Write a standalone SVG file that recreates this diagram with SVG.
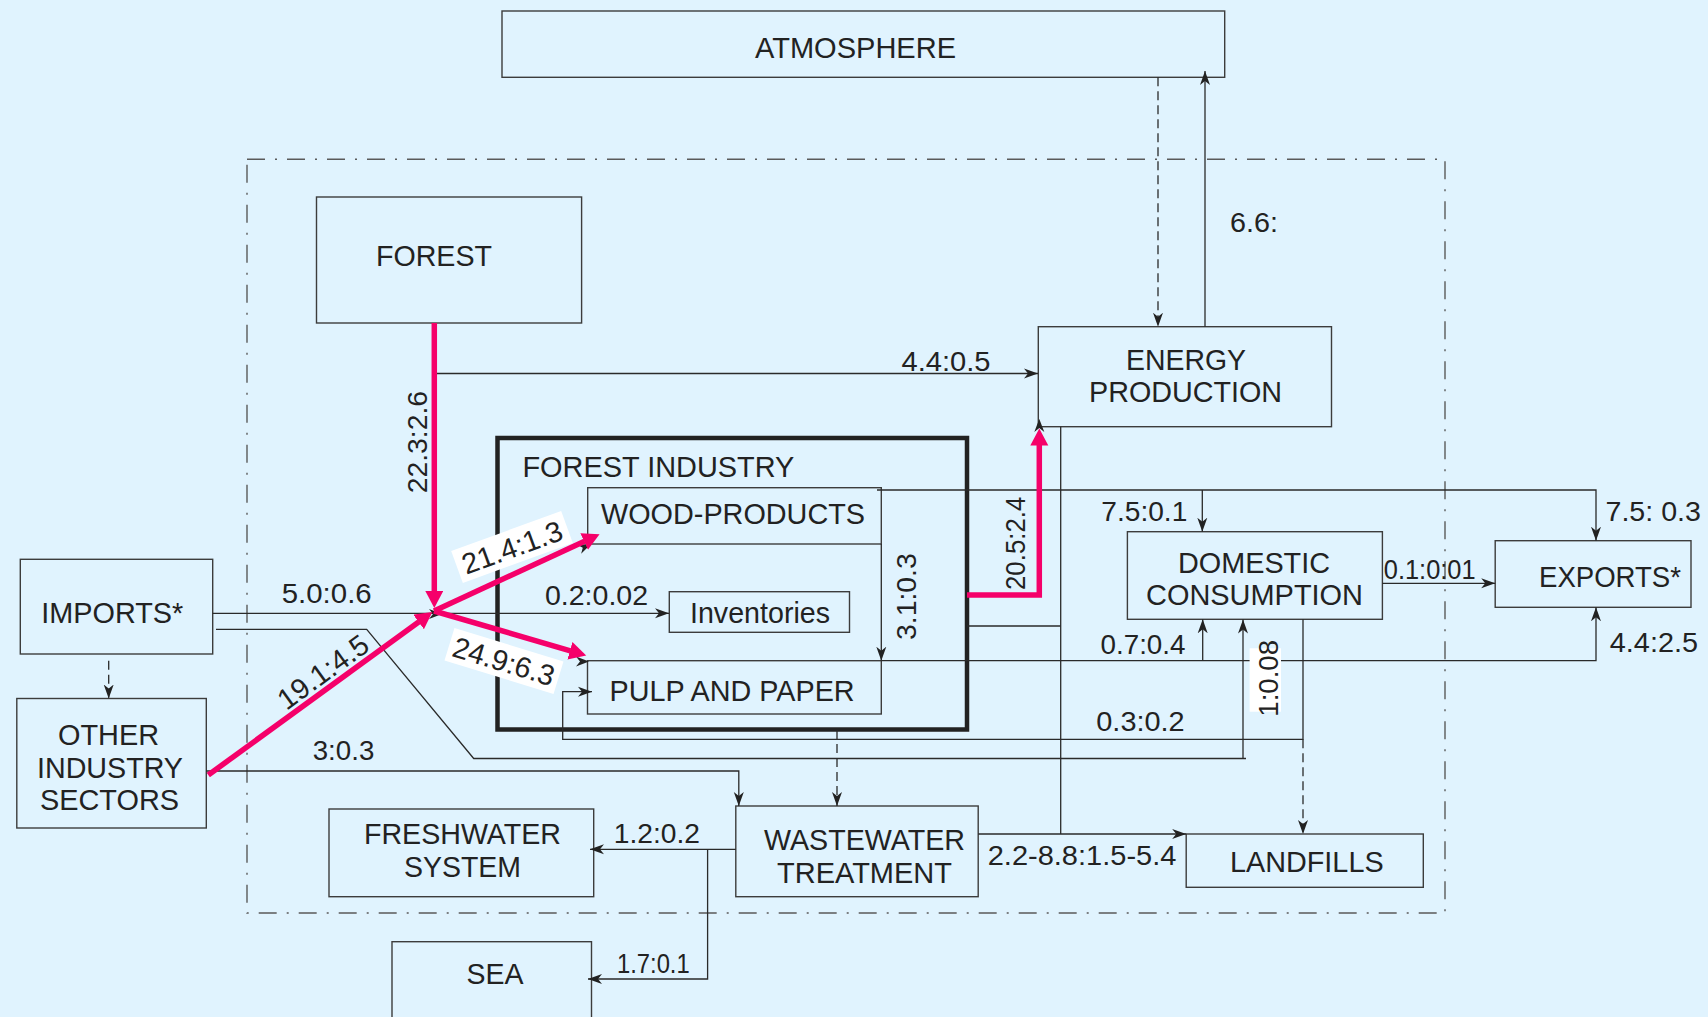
<svg xmlns="http://www.w3.org/2000/svg" xmlns:xlink="http://www.w3.org/1999/xlink" width="1708" height="1017" viewBox="0 0 1708 1017">
<style>
.bx{fill:none;stroke:#3c3c3c;stroke-width:1.4}
.thick{fill:none;stroke:#222;stroke-width:4.5}
.ln{fill:none;stroke:#2a2a2a;stroke-width:1.3}
.dl{fill:none;stroke:#2a2a2a;stroke-width:1.3;stroke-dasharray:9 5}
.bd{fill:none;stroke:#5a5a5a;stroke-width:1.4;stroke-dasharray:18 10 2 10}
.pk{fill:none;stroke:#F5006A;stroke-width:5.5;stroke-linejoin:miter}
.t{font-family:"Liberation Sans",Arial,Helvetica,sans-serif;font-size:29.5px;fill:#222}
.n{font-family:"Liberation Sans",Arial,Helvetica,sans-serif;font-size:27px;fill:#222}
.r{font-family:"Liberation Sans",Arial,Helvetica,sans-serif;font-size:29px;fill:#222}
.wb{fill:#ffffff}
</style>
<defs>
<marker id="ah" markerUnits="userSpaceOnUse" markerWidth="16" markerHeight="12" refX="14" refY="6" orient="auto"><path d="M0,1 L14,6 L0,11 L4,6 Z" fill="#222"/></marker>
<marker id="ph" markerUnits="userSpaceOnUse" markerWidth="19" markerHeight="19" refX="0.5" refY="9" orient="auto"><path d="M0,0 L17,9 L0,18 Z" fill="#F5006A"/></marker>
<path id="bh" d="M0,0 L-13,-5 L-9,0 L-13,5 Z" fill="#222"/>
</defs>
<rect width="1708" height="1017" fill="#E0F3FE"/>

<rect class="bd" x="247" y="159.3" width="1198" height="753.7"/>

<g id="atmosphere"><rect class="bx" x="502" y="11" width="722.7" height="66.3"/><text class="t" x="755" y="58.3" textLength="201" lengthAdjust="spacingAndGlyphs">ATMOSPHERE</text></g>
<g id="forest"><rect class="bx" x="316.5" y="197" width="265.1" height="126"/><text class="t" x="376" y="265.7" textLength="116" lengthAdjust="spacingAndGlyphs">FOREST</text></g>
<g id="energy"><rect class="bx" x="1038.3" y="326.7" width="293.2" height="100"/><text class="t" x="1126" y="369.5" textLength="120" lengthAdjust="spacingAndGlyphs">ENERGY</text><text class="t" x="1089" y="402" textLength="193" lengthAdjust="spacingAndGlyphs">PRODUCTION</text></g>
<g id="forest-industry"><rect class="thick" x="497.5" y="438" width="469.5" height="291.5"/><text class="t" x="522.4" y="476.5" textLength="272" lengthAdjust="spacingAndGlyphs">FOREST INDUSTRY</text></g>
<g id="wood-products"><rect class="bx" x="587.7" y="487.7" width="293.6" height="56.3"/><text class="t" x="601" y="524.3" textLength="264" lengthAdjust="spacingAndGlyphs">WOOD-PRODUCTS</text></g>
<g id="inventories"><rect class="bx" x="669.3" y="591.7" width="180.2" height="40.6"/><text class="t" x="690" y="623.3" textLength="140" lengthAdjust="spacingAndGlyphs">Inventories</text></g>
<g id="pulp-and-paper"><rect class="bx" x="587.5" y="660.7" width="293.8" height="53.3"/><text class="t" x="609.6" y="700.7" textLength="245" lengthAdjust="spacingAndGlyphs">PULP AND PAPER</text></g>
<g id="imports"><rect class="bx" x="20.3" y="559.3" width="192.4" height="94.7"/><text class="t" x="41.3" y="622.7" textLength="142" lengthAdjust="spacingAndGlyphs">IMPORTS*</text></g>
<g id="other-industry"><rect class="bx" x="16.8" y="698.5" width="189.5" height="129.5"/><text class="t" x="58" y="745" textLength="101" lengthAdjust="spacingAndGlyphs">OTHER</text><text class="t" x="37" y="777.7" textLength="146" lengthAdjust="spacingAndGlyphs">INDUSTRY</text><text class="t" x="40" y="810" textLength="139" lengthAdjust="spacingAndGlyphs">SECTORS</text></g>
<g id="domestic"><rect class="bx" x="1127.4" y="531.7" width="255" height="87.6"/><text class="t" x="1178" y="572.7" textLength="152" lengthAdjust="spacingAndGlyphs">DOMESTIC</text><text class="t" x="1146" y="605" textLength="217" lengthAdjust="spacingAndGlyphs">CONSUMPTION</text></g>
<g id="exports"><rect class="bx" x="1495.2" y="540.7" width="195.8" height="66.6"/><text class="t" x="1539" y="586.7" textLength="142" lengthAdjust="spacingAndGlyphs">EXPORTS*</text></g>
<g id="wastewater"><rect class="bx" x="735.8" y="806" width="242.4" height="90.7"/><text class="t" x="764" y="850" textLength="201" lengthAdjust="spacingAndGlyphs">WASTEWATER</text><text class="t" x="777" y="883.3" textLength="175" lengthAdjust="spacingAndGlyphs">TREATMENT</text></g>
<g id="freshwater"><rect class="bx" x="329" y="809" width="264.7" height="87.7"/><text class="t" x="364" y="844.3" textLength="197" lengthAdjust="spacingAndGlyphs">FRESHWATER</text><text class="t" x="404" y="877.3" textLength="117" lengthAdjust="spacingAndGlyphs">SYSTEM</text></g>
<g id="sea"><rect class="bx" x="392" y="941.7" width="199.5" height="80"/><text class="t" x="466.5" y="984.3" textLength="57" lengthAdjust="spacingAndGlyphs">SEA</text></g>
<g id="landfills"><rect class="bx" x="1186.2" y="834" width="237.1" height="53.3"/><text class="t" x="1230" y="871.7" textLength="153.6" lengthAdjust="spacingAndGlyphs">LANDFILLS</text></g>

<g id="connectors">
<path class="dl" d="M1158,77.3 V326.7" marker-end="url(#ah)"/>
<path class="ln" d="M1205,326.7 V71" marker-end="url(#ah)"/>
<path class="ln" d="M437,373.5 H1038" marker-end="url(#ah)"/>
<path class="ln" d="M212.7,613.3 H669" marker-end="url(#ah)"/>
<path class="ln" d="M216,629.3 H366.7 L473.7,758.5 H1246"/>
<path class="ln" d="M1243,758.5 V619.5" marker-end="url(#ah)"/>
<path class="dl" d="M108.7,660.7 V698.5" marker-end="url(#ah)"/>
<path class="ln" d="M206.3,771 H738.8 V806" marker-end="url(#ah)"/>
<path class="ln" d="M877,490 H1596 V540.7" marker-end="url(#ah)"/>
<path class="ln" d="M1202.3,490 V531.7" marker-end="url(#ah)"/>
<path class="ln" d="M881.3,544 V660.7" marker-end="url(#ah)"/>
<path class="ln" d="M881.3,660.7 H1596 V607.3" marker-end="url(#ah)"/>
<path class="ln" d="M1202.7,660.7 V619.3" marker-end="url(#ah)"/>
<path class="ln" d="M967,626 H1060.7"/>
<path class="ln" d="M1060.7,426.7 V834"/>
<path class="ln" d="M978.2,834 H1186.2" marker-end="url(#ah)"/>
<path class="ln" d="M1382.4,583.3 H1495.2" marker-end="url(#ah)"/>
<path class="ln" d="M1303,619.3 V739.3 H562.7 V691.7 H592" marker-end="url(#ah)"/>
<path class="dl" d="M1303,739.3 V834" marker-end="url(#ah)"/>
<path class="dl" d="M837,730 V806" marker-end="url(#ah)"/>
<path class="ln" d="M735.8,849.3 H590" marker-end="url(#ah)"/>
<path class="ln" d="M707.6,849.3 V979 H588" marker-end="url(#ah)"/>
<use xlink:href="#bh" transform="translate(442,614)"/>
<use xlink:href="#bh" transform="translate(591,544) rotate(-24)"/>
<use xlink:href="#bh" transform="translate(589,661.5)"/>
<use xlink:href="#bh" transform="translate(1039.3,419) rotate(-90)"/>
<path class="pk" d="M434.3,323 V591.5" marker-end="url(#ph)"/>
<path class="pk" d="M208.3,775 L419,621.7" marker-end="url(#ph)"/>
<path class="pk" d="M434,611 L584.6,541.3" marker-end="url(#ph)"/>
<path class="pk" d="M434,611 L570.4,650.9" marker-end="url(#ph)"/>
<path class="pk" d="M967,595 H1039.3 V445" marker-end="url(#ph)"/>
</g>

<g id="labels">
<text class="n" x="1230" y="232.3" textLength="48" lengthAdjust="spacingAndGlyphs">6.6:</text>
<text class="n" x="901.5" y="370.7" textLength="89" lengthAdjust="spacingAndGlyphs">4.4:0.5</text>
<text class="n" x="281.7" y="602.7" textLength="90" lengthAdjust="spacingAndGlyphs">5.0:0.6</text>
<text class="n" x="545" y="605" textLength="103" lengthAdjust="spacingAndGlyphs">0.2:0.02</text>
<text class="n" x="312.7" y="760" textLength="61.6" lengthAdjust="spacingAndGlyphs">3:0.3</text>
<text class="n" x="1101.3" y="521" textLength="86" lengthAdjust="spacingAndGlyphs">7.5:0.1</text>
<text class="n" x="1605.5" y="521" textLength="95.4" lengthAdjust="spacingAndGlyphs">7.5: 0.3</text>
<text class="n" x="1383.8" y="579.3" textLength="91.8" lengthAdjust="spacingAndGlyphs">0.1:0:01</text>
<text class="n" x="1100.5" y="654.3" textLength="85" lengthAdjust="spacingAndGlyphs">0.7:0.4</text>
<text class="n" x="1609.8" y="652.3" textLength="88.2" lengthAdjust="spacingAndGlyphs">4.4:2.5</text>
<text class="n" x="1096.3" y="730.7" textLength="88.4" lengthAdjust="spacingAndGlyphs">0.3:0.2</text>
<text class="n" x="613.8" y="843.3" textLength="86.2" lengthAdjust="spacingAndGlyphs">1.2:0.2</text>
<text class="n" x="617" y="972.7" textLength="72.7" lengthAdjust="spacingAndGlyphs">1.7:0.1</text>
<text class="n" x="987.7" y="865" textLength="188.7" lengthAdjust="spacingAndGlyphs">2.2-8.8:1.5-5.4</text>
<text class="n" transform="translate(426.7,493.3) rotate(-90)" textLength="102.3" lengthAdjust="spacingAndGlyphs">22.3:2.6</text>
<text class="n" transform="translate(1025,590) rotate(-90)" textLength="93.3" lengthAdjust="spacingAndGlyphs">20.5:2.4</text>
<text class="n" transform="translate(915.7,640) rotate(-90)" textLength="86.7" lengthAdjust="spacingAndGlyphs">3.1:0.3</text>
<rect class="wb" x="1249.6" y="648.3" width="31.4" height="63.4"/>
<text class="n" transform="translate(1278,716.7) rotate(-90)" textLength="76.7" lengthAdjust="spacingAndGlyphs">1:0.08</text>
<text class="r" transform="translate(323,672) rotate(-36)" x="0" y="10" text-anchor="middle">19.1:4.5</text>
<g transform="translate(512,547) rotate(-20)"><rect class="wb" x="-58.5" y="-17" width="117" height="34"/><text class="r" x="0" y="10.5" text-anchor="middle">21.4:1.3</text></g>
<g transform="translate(504,661) rotate(17)"><rect class="wb" x="-57" y="-17" width="114" height="34"/><text class="r" x="0" y="10.5" text-anchor="middle">24.9:6.3</text></g>
</g>
</svg>
